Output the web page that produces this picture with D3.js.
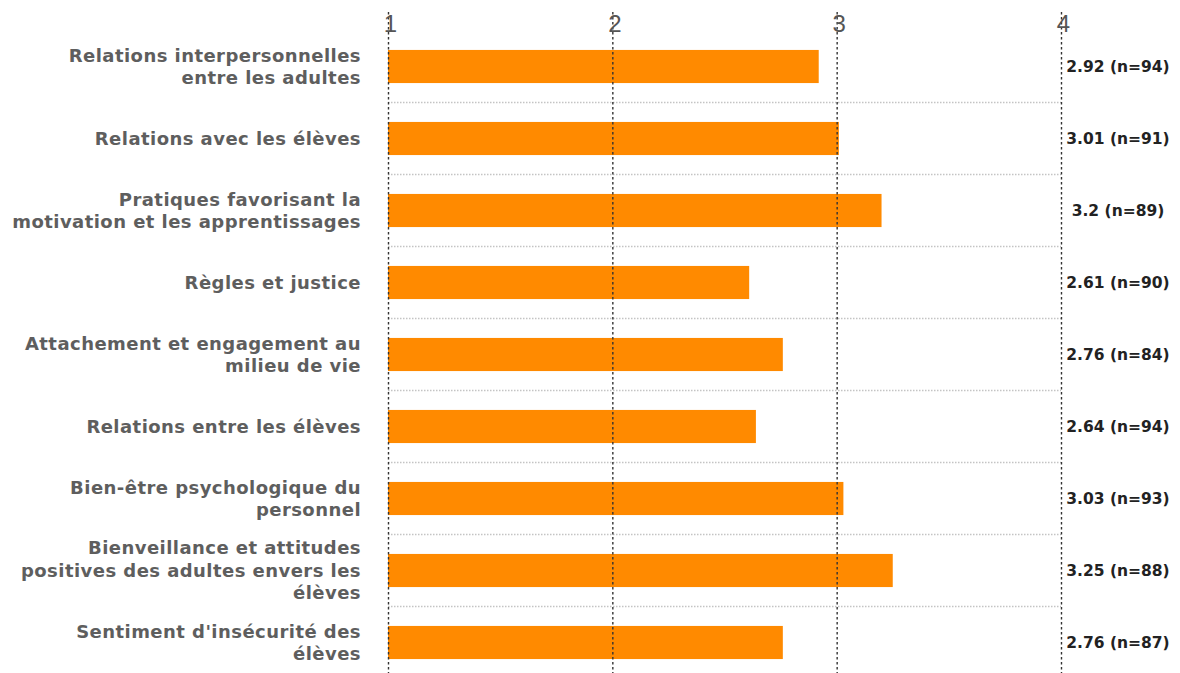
<!DOCTYPE html>
<html>
<head>
<meta charset="utf-8">
<script src="https://cdn.jsdelivr.net/npm/d3@7"></script>
<style>
  html, body { margin: 0; padding: 0; background: #fff; }
  .cat-label { font-family: "DejaVu Sans", sans-serif; font-weight: bold; font-size: 18px; letter-spacing: 0.45px; fill: #5e5e5e; }
  .val-label { font-family: "DejaVu Sans", sans-serif; font-weight: bold; font-size: 15.5px; fill: #222; }
  .tick-label { font-family: "Liberation Sans Narrow", "Liberation Sans", sans-serif; font-size: 24px; fill: #555; }
</style>
</head>
<body>
<div id="chart"></div>
<script>
// ---------- data ----------
const categories = [
    "Relations interpersonnelles\nentre les adultes",
    "Relations avec les élèves",
    "Pratiques favorisant la\nmotivation et les apprentissages",
    "Règles et justice",
    "Attachement et engagement au\nmilieu de vie",
    "Relations entre les élèves",
    "Bien-être psychologique du\npersonnel",
    "Bienveillance et attitudes\npositives des adultes envers les\nélèves",
    "Sentiment d'insécurité des\nélèves"
];
const means = [2.92, 3.01, 3.2, 2.61, 2.76, 2.64, 3.03, 3.25, 2.76];
const counts = [94, 91, 89, 90, 84, 94, 93, 88, 87];
const meanLabels = ["2.92", "3.01", "3.2", "2.61", "2.76", "2.64", "3.03", "3.25", "2.76"];
const tickValues = [1, 2, 3, 4];

// ---------- layout ----------
const width = 1180;
const height = 673;

const svg = d3.select("#chart")
    .append("svg")
    .attr("width", width)
    .attr("height", height);

const xScale = d3.scaleLinear()
    .domain([1, 4])
    .range([388, 1061]);

const yScale = d3.scaleBand()
    .domain(d3.range(categories.length))
    .range([30.5, 678.5])
    .paddingInner(0.54)
    .paddingOuter(0.27);

const step = yScale.step();
const rowCenter = i => yScale(i) + yScale.bandwidth() / 2;

// horizontal dotted separators between rows
svg.append("g")
    .selectAll("line")
    .data(d3.range(1, categories.length))
    .join("line")
    .attr("x1", xScale(1))
    .attr("x2", xScale(4))
    .attr("y1", i => rowCenter(i) - step / 2)
    .attr("y2", i => rowCenter(i) - step / 2)
    .attr("stroke", "#c4c4c4")
    .attr("stroke-width", 1.5)
    .attr("stroke-dasharray", "1.5,1.5");

// bars
svg.append("g")
    .selectAll("rect")
    .data(means)
    .join("rect")
    .attr("x", xScale(1))
    .attr("y", (d, i) => yScale(i))
    .attr("width", d => xScale(d) - xScale(1))
    .attr("height", yScale.bandwidth())
    .attr("fill", "#ff8a00");

// top axis with dashed vertical gridlines
const topAxis = d3.axisTop(xScale)
    .tickValues(tickValues)
    .tickFormat(d3.format("d"))
    .tickSize(-(height - 12))
    .tickSizeOuter(0);

const axisG = svg.append("g")
    .attr("transform", "translate(0, 12)")
    .call(topAxis);

axisG.select(".domain").remove();
axisG.selectAll(".tick line")
    .attr("stroke", "#333")
    .attr("stroke-width", 1.4)
    .attr("stroke-dasharray", "2.5,2.5");
axisG.selectAll(".tick text")
    .attr("class", "tick-label")
    .attr("y", 3)
    .attr("dy", "0.71em")
    .attr("dx", 2)
    .attr("text-anchor", "middle");

// category labels (right aligned, multi-line)
const lineHeight = 22.5;
const catG = svg.append("g");
categories.forEach((cat, i) => {
    const lines = cat.split("\n");
    const y0 = rowCenter(i) - (lines.length - 1) * lineHeight / 2;
    const t = catG.append("text")
        .attr("class", "cat-label")
        .attr("text-anchor", "end");
    lines.forEach((ln, j) => {
        t.append("tspan")
            .attr("x", 361)
            .attr("y", y0 + j * lineHeight)
            .attr("dy", "0.36em")
            .text(ln);
    });
});

// value labels on the right
svg.append("g")
    .selectAll("text")
    .data(means)
    .join("text")
    .attr("class", "val-label")
    .attr("x", 1118)
    .attr("y", (d, i) => rowCenter(i))
    .attr("dy", "0.36em")
    .attr("text-anchor", "middle")
    .text((d, i) => `${meanLabels[i]} (n=${counts[i]})`);
</script>
</body>
</html>
